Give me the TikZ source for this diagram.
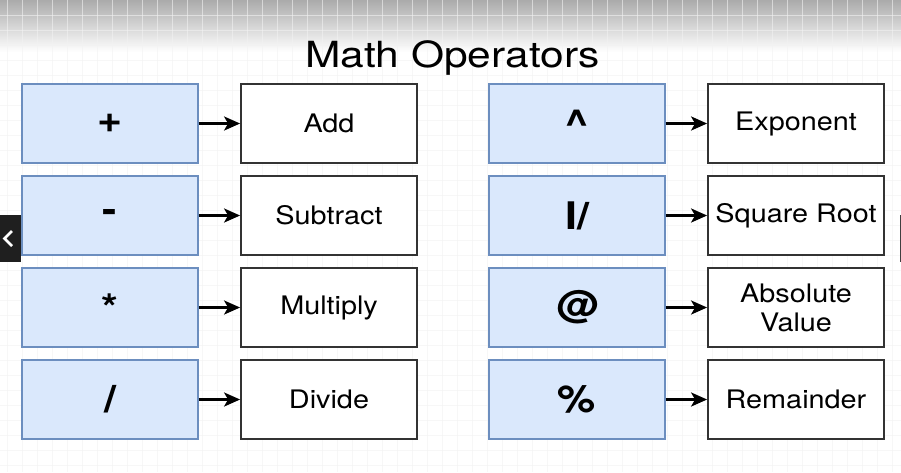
\documentclass[tikz,border=0pt]{standalone}
\usepackage{fontspec}
\setmainfont[FakeStretch=1.13]{TeX Gyre Heros}
\newfontfamily\titlefont[FakeStretch=1.18]{TeX Gyre Heros}
\usetikzlibrary{arrows.meta}
\definecolor{opfill}{HTML}{DAE8FC}
\definecolor{opline}{HTML}{6C8EBF}
\definecolor{gridline}{HTML}{F2F2F2}

\begin{document}
\begin{tikzpicture}[x=1pt, y=-1pt,
  opbox/.style={draw=opline, fill=opfill, line width=1.3pt, minimum width=176pt,
    minimum height=79pt, inner sep=0pt, font=\fontsize{38}{44}\selectfont\bfseries},
  namebox/.style={draw=black!80, fill=white, line width=1.8pt, minimum width=176pt,
    minimum height=79pt, inner sep=0pt, align=center, font=\fontsize{25.5}{29}\selectfont},
  arr/.style={-{Stealth[length=16pt, width=14pt, inset=4pt]}, line width=2.6pt}]
  \useasboundingbox (0,0) rectangle (901,472);
  % background
  \fill[white] (0,0) rectangle (901,472);
  \shade[top color=black!33, bottom color=white] (0,0) rectangle (901,52);
  \foreach \gx in {7,22,...,900}
    \draw[gridline, opacity=0.6] (\gx,0) -- (\gx,472);
  \foreach \gy in {15,30,...,470}
    \draw[gridline, opacity=0.6] (0,\gy) -- (901,\gy);
  % side tabs
  \fill[black!88] (0,215) rectangle (21,262);
  \draw[white, line width=2.5pt] (12,231) -- (4.5,238.5) -- (12,246);
  \fill[black!75] (899.5,215) rectangle (901,262);
  % title
  \node[font=\titlefont\fontsize{36}{40}\selectfont, anchor=base] (title) at (452.5,67) {Math Operators};
  % operators
  \node[opbox] (op1) at (110,123.5) {+};
  \node[opbox] (op2) at (110,215.5) {-};
  \node[opbox] (op3) at (110,307.5) {*};
  \node[opbox] (op4) at (110,399.5) {/};
  \node[opbox] (op5) at (577,123.5) {\textasciicircum};
  \node[opbox] (op6) at (577,215.5) {I/};
  \node[opbox] (op7) at (577,307.5) {@};
  \node[opbox] (op8) at (577,399.5) {\%};
  % names
  \node[namebox] (name1) at (329,123.5) {Add};
  \node[namebox] (name2) at (329,215.5) {Subtract};
  \node[namebox] (name3) at (329,307.5) {Multiply};
  \node[namebox] (name4) at (329,399.5) {Divide};
  \node[namebox] (name5) at (796,123.5) {Exponent};
  \node[namebox] (name6) at (796,215.5) {Square Root};
  \node[namebox] (name7) at (796,307.5) {Absolute\\Value};
  \node[namebox] (name8) at (796,399.5) {Remainder};
  \foreach \i in {1,...,8}
    \draw[arr] (op\i) -- (name\i);
\end{tikzpicture}
\end{document}
